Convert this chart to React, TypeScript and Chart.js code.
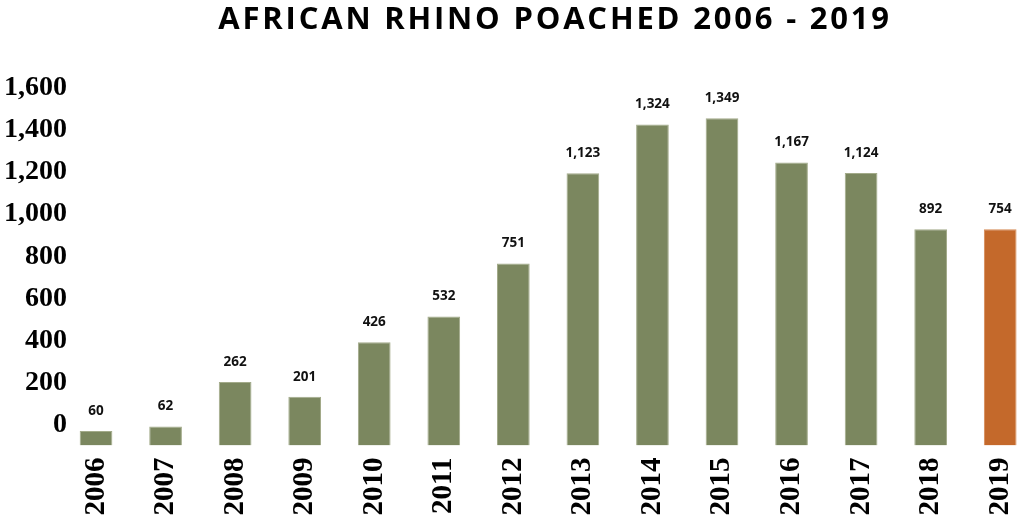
import React, { useEffect, useRef } from 'react';
import { Chart, registerables } from 'chart.js';

Chart.register(...registerables);

const chartTitle = 'AFRICAN RHINO POACHED 2006 - 2019';
const years = ['2006', '2007', '2008', '2009', '2010', '2011', '2012', '2013', '2014', '2015', '2016', '2017', '2018', '2019'];
// numbers printed above the bars
const poachedLabels = [60, 62, 262, 201, 426, 532, 751, 1123, 1324, 1349, 1167, 1124, 892, 754];
// bar heights as drawn in the picture (2007 and 2019 are drawn taller than their labels)
const barHeights = [60, 78, 262, 201, 426, 532, 751, 1123, 1324, 1349, 1167, 1124, 892, 892];
const yTickValues = [0, 200, 400, 600, 800, 1000, 1200, 1400, 1600];

const GREEN = '#7b875f';
const ORANGE = '#c4692b';

const fmt = (v: number) => v.toLocaleString('en-US');

const titlePlugin = {
    id: 'centeredTitle',
    afterDraw(chart: Chart) {
        const { ctx, chartArea } = chart;
        ctx.save();
        ctx.font = '700 31px "Open Sans"';
        (ctx as any).letterSpacing = '2.8px';
        ctx.fillStyle = '#000';
        ctx.textAlign = 'center';
        ctx.textBaseline = 'alphabetic';
        ctx.fillText(chartTitle, (chartArea.left + chartArea.right) / 2 + 7, 28.5);
        ctx.restore();
    }
};

// y tick labels placed through the (hidden) label scale, drawn without the axis clip
const yLabelPlugin = {
    id: 'yTickLabels',
    afterDraw(chart: Chart) {
        const { ctx } = chart;
        const scale = chart.scales.yLabels;
        ctx.save();
        ctx.font = 'bold 28px "Liberation Serif"';
        ctx.fillStyle = '#000';
        ctx.textAlign = 'right';
        ctx.textBaseline = 'middle';
        yTickValues.forEach(v => {
            ctx.fillText(fmt(v), 67, scale.getPixelForValue(v));
        });
        ctx.restore();
    }
};

const valueLabelPlugin = {
    id: 'valueLabels',
    afterDatasetsDraw(chart: Chart) {
        const { ctx } = chart;
        const meta = chart.getDatasetMeta(0);
        ctx.save();
        ctx.font = '700 13.5px "Open Sans"';
        ctx.fillStyle = '#111';
        ctx.textAlign = 'center';
        ctx.textBaseline = 'middle';
        meta.data.forEach((bar: any, i: number) => {
            ctx.fillText(fmt(poachedLabels[i]), bar.x, bar.y - 20);
        });
        ctx.restore();
    }
};

const App: React.FC = () => {
    const canvasRef = useRef<HTMLCanvasElement | null>(null);
    const chartRef = useRef<Chart | null>(null);

    useEffect(() => {
        if (!canvasRef.current) return;

        const colors = years.map((_, i) => (i === years.length - 1 ? ORANGE : GREEN));
        const edges = years.map((_, i) => (i === years.length - 1 ? '#d58a55' : '#a3ab8a'));

        chartRef.current = new Chart(canvasRef.current, {
            type: 'bar',
            data: {
                labels: years,
                datasets: [{
                    label: 'Rhino poached',
                    data: barHeights,
                    backgroundColor: colors,
                    borderColor: edges,
                    borderWidth: 1,
                    barPercentage: 0.94,
                    categoryPercentage: 0.5,
                    yAxisID: 'y'
                }]
            },
            options: {
                responsive: true,
                maintainAspectRatio: false,
                animation: false,
                layout: { padding: { top: 57.5, left: 61.25, right: 0, bottom: 0 } },
                plugins: {
                    legend: { display: false },
                    title: { display: false },
                    tooltip: { enabled: false }
                },
                scales: {
                    x: {
                        type: 'category',
                        grid: { display: false, drawTicks: false },
                        border: { display: false },
                        ticks: {
                            color: '#000',
                            font: { family: '"Liberation Serif"', weight: 'bold', size: 29 },
                            maxRotation: 90,
                            minRotation: 90,
                            autoSkip: false,
                            padding: 12
                        },
                        afterFit: (s: any) => { s.height = 72.5; }
                    },
                    y: {
                        display: false,
                        min: 0,
                        max: 1600
                    },
                    yLabels: {
                        type: 'linear',
                        axis: 'y',
                        position: 'left',
                        display: false,
                        min: -97,
                        max: 1743
                    }
                }
            } as any,
            plugins: [titlePlugin, yLabelPlugin, valueLabelPlugin]
        });

        return () => {
            chartRef.current?.destroy();
            chartRef.current = null;
        };
    }, []);

    return (
        <div style={{ position: 'fixed', left: 0, top: 0, width: 1029, height: 518, overflow: 'hidden', background: '#fff' }}>
            <div style={{ position: 'relative', width: 1047, height: 518 }}>
                <canvas ref={canvasRef}></canvas>
            </div>
        </div>
    );
};

export default App;
